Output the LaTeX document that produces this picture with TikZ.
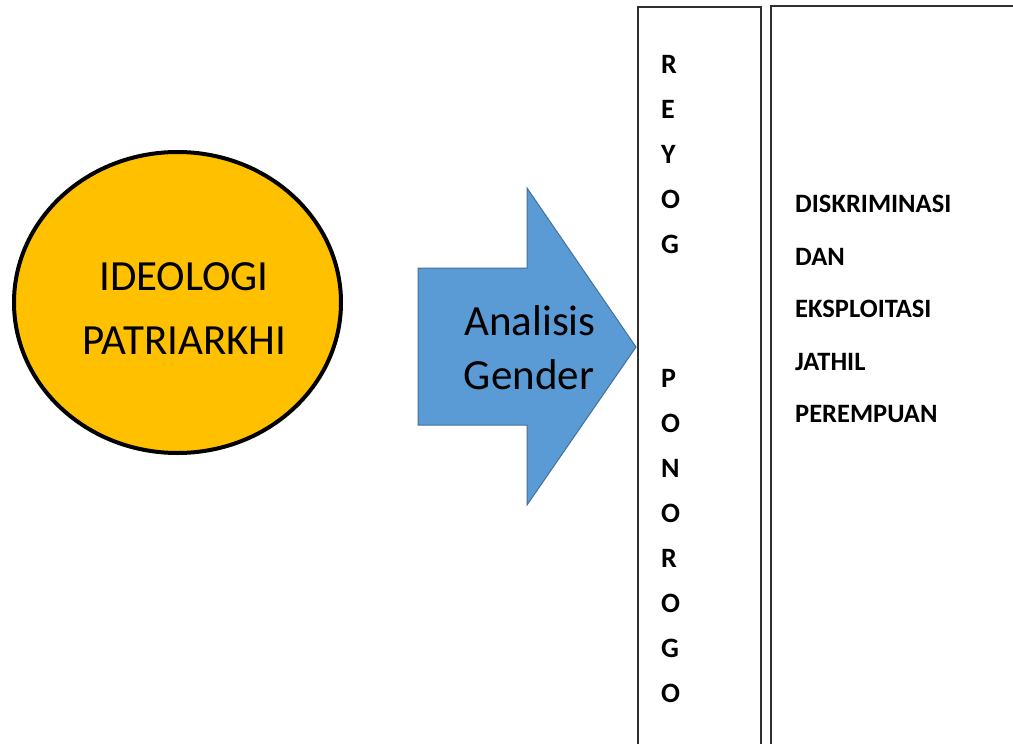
\documentclass[tikz,border=0pt]{standalone}
\usepackage{fontspec}
\setmainfont{Carlito}
\usetikzlibrary{shapes.geometric}
\definecolor{gold}{HTML}{FFC000}
\definecolor{arrowblue}{HTML}{5B9BD5}
\definecolor{arrowedge}{HTML}{41719C}
\definecolor{boxedge}{HTML}{303030}
\tikzset{
  bigtxt/.style={inner sep=0pt, font=\fontsize{43}{50}\selectfont},
  letter/.style={inner sep=0pt, anchor=west, font=\fontsize{28}{32}\selectfont\bfseries},
  rtxt/.style={inner sep=0pt, anchor=west, font=\fontsize{26.5}{30}\selectfont\bfseries},
  colbox/.style={draw=boxedge, line width=2.2pt},
}
\begin{document}
\begin{tikzpicture}[x=1pt,y=-1pt]
\clip (0,0) rectangle (1013,744);
\fill[white] (0,0) rectangle (1013,744);
% ellipse
\node[ellipse, draw=black, fill=gold, line width=4pt, minimum width=327pt, minimum height=301pt, inner sep=0pt] (ideo) at (177.5,302.5) {};
\node[bigtxt] (ideo1) at (184,277) {IDEOLOGI};
\node[bigtxt] (ideo2) at (184.5,341) {PATRIARKHI};
% arrow
\coordinate (a1) at (418,268);
\coordinate (a2) at (527,268);
\coordinate (a3) at (527,188);
\coordinate (a4) at (636,347);
\coordinate (a5) at (527,505);
\coordinate (a6) at (527,425);
\coordinate (a7) at (418,425);
\draw[fill=arrowblue, draw=arrowedge, line width=1pt, line join=miter] (a1) -- (a2) -- (a3) -- (a4) -- (a5) -- (a6) -- (a7) -- cycle;
\node[bigtxt] (ana) at (530,321) {Analisis};
\node[bigtxt] (gen) at (529,375) {Gender};
% boxes
\coordinate (b1) at (638,760);
\coordinate (b2) at (761,7);
\draw[colbox] (b1) rectangle (b2);
\coordinate (c1) at (771,760);
\coordinate (c2) at (1030,6);
\draw[colbox] (c1) rectangle (c2);
% vertical letters
\foreach \l [count=\i from 0] in {R,E,Y,O,G} {
  \node[letter] (ry\i) at (661, 64.5+44.9*\i) {\l};
}
\foreach \l [count=\i from 7] in {P,O,N,O,R,O,G,O} {
  \node[letter] (pn\i) at (661, 64.5+44.9*\i) {\l};
}
% right text
\node[rtxt] (t1) at (795,204) {DISKRIMINASI};
\node[rtxt] (t2) at (795,256.5) {DAN};
\node[rtxt] (t3) at (795,309) {EKSPLOITASI};
\node[rtxt] (t4) at (795,361.5) {JATHIL};
\node[rtxt] (t5) at (795,414) {PEREMPUAN};
\end{tikzpicture}
\end{document}
